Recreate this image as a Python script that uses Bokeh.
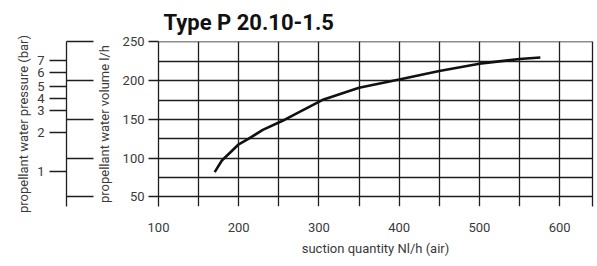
from bokeh.plotting import figure
from bokeh.models import LinearAxis, FixedTicker, Range1d
from bokeh.embed import file_html
from bokeh.resources import INLINE

# --- data ---
suction = [170, 179, 192, 200, 212, 230, 258, 304, 350, 400, 450, 500, 550, 576]
volume = [82, 97, 110, 118, 125, 136.5, 150, 175, 191, 201.5, 212.5, 222, 228, 230]

x_ticks = [100, 200, 300, 400, 500, 600]
x_grid = [100, 150, 200, 250, 300, 350, 400, 450, 500, 550, 600]
y_ticks = [50, 100, 150, 200, 250]
y_grid = [50, 75, 100, 125, 150, 175, 200, 225, 250]

pressure_labels = ["1", "2", "3", "4", "5", "6", "7"]
pressure_at_volume = [82.3, 132.6, 161.0, 176.5, 191.9, 210.0, 225.5]

FONT = "Roboto"
TXT = "#3a3a3a"
LINE = "#1e1e1e"

p = figure(width=597, height=266,
           x_range=Range1d(100, 641), y_range=Range1d(37.7, 250.6),
           output_backend="svg", toolbar_location=None,
           min_border_left=158, min_border_right=5,
           min_border_top=41, min_border_bottom=60,
           title="Type P 20.10-1.5")
p.outline_line_color = None
p.background_fill_color = "white"
p.border_fill_color = "white"

p.title.text_font = FONT
p.title.text_font_size = "22px"
p.title.text_font_style = "bold"
p.title.text_color = "#111111"
p.title.align = "left"
p.title.offset = 5
p.title.standoff = 14

# grid
p.xgrid.ticker = FixedTicker(ticks=x_grid)
p.ygrid.ticker = FixedTicker(ticks=y_grid)
for g in (p.xgrid[0], p.ygrid[0]):
    g.grid_line_color = LINE
    g.grid_line_width = 1.3
    g.grid_line_alpha = 1.0

# x axis
xa = p.below[0]
xa.ticker = FixedTicker(ticks=x_ticks)
xa.axis_line_color = None
xa.major_tick_line_color = None
xa.minor_tick_line_color = None
xa.major_tick_out = 0
xa.major_tick_in = 0
xa.major_label_standoff = 16
xa.major_label_text_font = FONT
xa.major_label_text_font_size = "13px"
xa.major_label_text_color = TXT
xa.axis_label = "suction quantity Nl/h (air)"
xa.axis_label_text_font = FONT
xa.axis_label_text_font_size = "13px"
xa.axis_label_text_font_style = "normal"
xa.axis_label_text_color = TXT
xa.axis_label_standoff = 6

# main y axis (volume)
ya = p.left[0]
ya.ticker = FixedTicker(ticks=y_ticks)
ya.axis_line_color = LINE
ya.axis_line_width = 1.3
ya.major_tick_line_color = LINE
ya.major_tick_line_width = 1.3
ya.minor_tick_line_color = None
ya.major_tick_out = 10
ya.major_tick_in = 0
ya.major_label_standoff = 4
ya.major_label_text_font = FONT
ya.major_label_text_font_size = "13px"
ya.major_label_text_color = TXT
ya.axis_label = "propellant water volume l/h"
ya.axis_label_text_font = FONT
ya.axis_label_text_font_size = "13px"
ya.axis_label_text_font_style = "normal"
ya.axis_label_text_color = TXT
ya.axis_label_standoff = 8

# nomogram volume ticks (pointing right from the scale line)
va = LinearAxis(ticker=FixedTicker(ticks=y_ticks))
va.axis_line_color = None
va.major_tick_line_color = LINE
va.major_tick_line_width = 1.3
va.minor_tick_line_color = None
va.major_tick_out = 27
va.major_tick_in = 0
va.major_label_standoff = 0
va.major_label_text_font_size = "0px"
va.major_label_text_color = None
p.add_layout(va, "left")

# nomogram pressure scale
pa = LinearAxis(ticker=FixedTicker(ticks=pressure_at_volume))
pa.major_label_overrides = {v: t for v, t in zip(pressure_at_volume, pressure_labels)}
pa.axis_line_color = LINE
pa.axis_line_width = 1.3
pa.major_tick_line_color = LINE
pa.major_tick_line_width = 1.3
pa.minor_tick_line_color = None
pa.major_tick_out = 17
pa.major_tick_in = 0
pa.major_label_standoff = 5
pa.major_label_text_font = FONT
pa.major_label_text_font_size = "13px"
pa.major_label_text_color = TXT
pa.axis_label = "propellant water pressure (bar)"
pa.axis_label_text_font = FONT
pa.axis_label_text_font_size = "13px"
pa.axis_label_text_font_style = "normal"
pa.axis_label_text_color = TXT
pa.axis_label_standoff = 3
p.add_layout(pa, "left")

# right edge line of the chart
ra = LinearAxis(ticker=FixedTicker(ticks=[]))
ra.axis_line_color = LINE
ra.axis_line_width = 1.3
ra.major_tick_line_color = None
ra.minor_tick_line_color = None
ra.major_tick_out = 0
ra.major_label_text_font_size = "0px"
ra.major_label_standoff = 0
p.add_layout(ra, "right")

# curve
p.line(suction, volume, line_color="#111111", line_width=2.6)

open("out.html", "w").write(file_html(p, INLINE))
